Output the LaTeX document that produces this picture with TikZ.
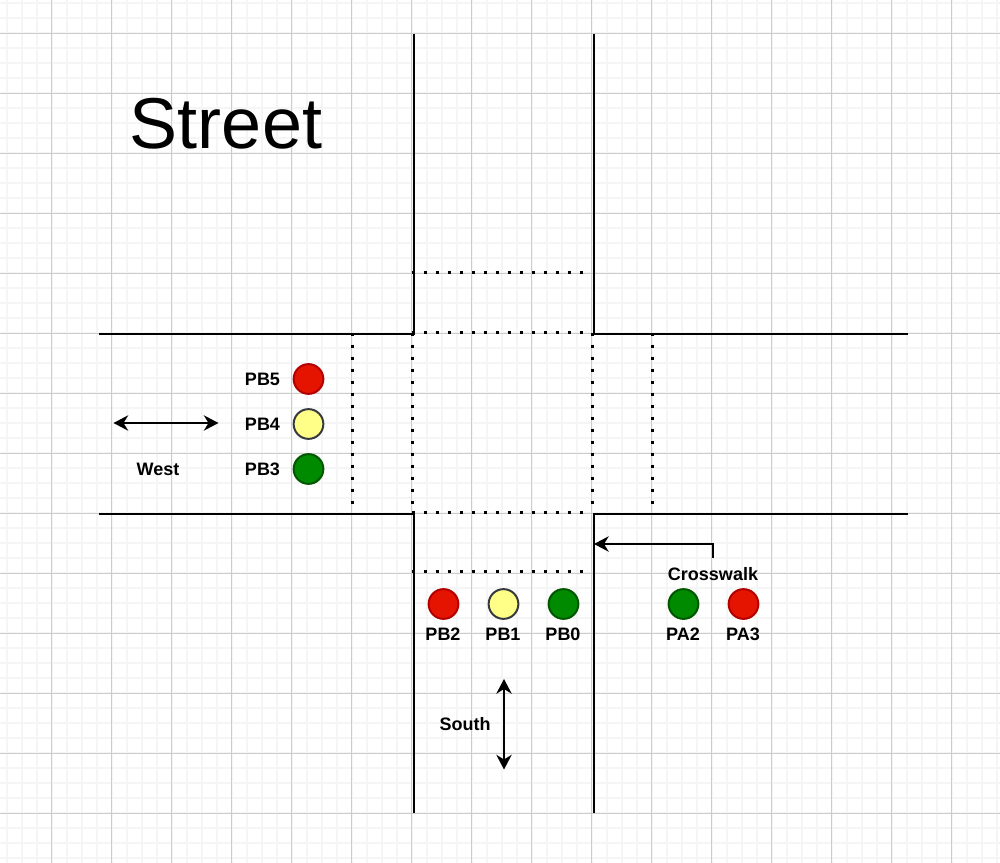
\documentclass[tikz,border=0pt]{standalone}
\usepackage{fontspec}
\setmainfont{Liberation Sans}
\usetikzlibrary{arrows.meta}
\definecolor{lampred}{HTML}{E51400}
\definecolor{lampredline}{HTML}{B20000}
\definecolor{lampyellow}{HTML}{FFFF88}
\definecolor{lampyellowline}{HTML}{36393D}
\definecolor{lampgreen}{HTML}{008A00}
\definecolor{lampgreenline}{HTML}{005700}
\tikzset{
  road/.style={draw=black, line width=1.5pt},
  crossing/.style={draw=black, line width=2.3pt, dash pattern=on 2.3pt off 6.7pt},
  minorgrid/.style={draw=black!4, line width=1.5pt},
  majorgrid/.style={draw=black!20, line width=0.75pt},
  arrow/.style={{Stealth[length=11pt,width=11.5pt,inset=3.5pt]}-{Stealth[length=11pt,width=11.5pt,inset=3.5pt]}, line width=1.5pt},
  onearrow/.style={-{Stealth[length=11pt,width=11.5pt,inset=3.5pt]}, line width=1.5pt},
  lamp/.style={circle, minimum size=22.3pt, inner sep=0pt, line width=1.5pt},
  redlamp/.style={lamp, draw=lampredline, fill=lampred},
  yellowlamp/.style={lamp, draw=lampyellowline, fill=lampyellow},
  greenlamp/.style={lamp, draw=lampgreenline, fill=lampgreen},
  pinlabel/.style={font=\bfseries\fontsize{13.5}{16}\selectfont, inner sep=0pt}
}
\begin{document}
\begin{tikzpicture}[x=0.75pt, y=-0.75pt]
\useasboundingbox[fill=white] (0,0) rectangle (1000,863);
% grid
\foreach \gx in {0,...,66} \draw[minorgrid] ({7+15*\gx},0) -- ({7+15*\gx},863);
\foreach \gy in {0,...,57} \draw[minorgrid] (0,{3+15*\gy}) -- (1000,{3+15*\gy});
\foreach \gx in {0,...,15} \draw[majorgrid] ({51.5+60*\gx},0) -- ({51.5+60*\gx},863);
\foreach \gy in {0,...,13} \draw[majorgrid] (0,{33.5+60*\gy}) -- (1000,{33.5+60*\gy});
% title
\node[font=\fontsize{54}{60}\selectfont, inner sep=0pt] (street) at (226,124) {Street};
% crossings
\draw[crossing] (411.5,272.5) -- (585,272.5);
\draw[crossing] (411.5,332.5) -- (585,332.5);
\draw[crossing] (411.5,512.5) -- (585,512.5);
\draw[crossing] (411.5,571.5) -- (585,571.5);
\draw[crossing] (352.5,332.5) -- (352.5,504);
\draw[crossing] (412.5,332.5) -- (412.5,504);
\draw[crossing] (592.5,332.5) -- (592.5,504);
\draw[crossing] (652.5,332.5) -- (652.5,504);
% roads
\draw[road] (413.5,34) -- (413.5,333.5) -- (99,333.5);
\draw[road] (593.5,34) -- (593.5,333.5) -- (908,333.5);
\draw[road] (99,513.5) -- (413.5,513.5) -- (413.5,813);
\draw[road] (908,513.5) -- (593.5,513.5) -- (593.5,813);
% west lamps
\node[redlamp] (pb5) at (308.5,379) {};
\node[yellowlamp] (pb4) at (308.5,424) {};
\node[greenlamp] (pb3) at (308.5,469) {};
\node[pinlabel] (pb5label) at (262.5,379) {PB5};
\node[pinlabel] (pb4label) at (262.5,424) {PB4};
\node[pinlabel] (pb3label) at (262.5,469) {PB3};
% south lamps
\node[redlamp] (pb2) at (443.5,604) {};
\node[yellowlamp] (pb1) at (503.5,604) {};
\node[greenlamp] (pb0) at (563.5,604) {};
\node[pinlabel] (pb2label) at (443,634) {PB2};
\node[pinlabel] (pb1label) at (503,634) {PB1};
\node[pinlabel] (pb0label) at (563,634) {PB0};
% walk lamps
\node[greenlamp] (pa2) at (683.5,604) {};
\node[redlamp] (pa3) at (743.5,604) {};
\node[pinlabel] (pa2label) at (683,634) {PA2};
\node[pinlabel] (pa3label) at (743,634) {PA3};
% directions
\node[pinlabel] (west) at (158,469) {West};
\node[pinlabel] (south) at (465,724) {South};
\coordinate (westa) at (113.5,423);
\coordinate (westb) at (218.5,423);
\coordinate (southa) at (504,679);
\coordinate (southb) at (504,769.5);
\draw[arrow] (westa) -- (westb);
\draw[arrow] (southa) -- (southb);
% crosswalk
\node[pinlabel, minimum height=24pt] (crosswalk) at (713,574) {Crosswalk};
\coordinate (walkend) at (594,544);
\draw[onearrow] (crosswalk.north) |- (walkend);
\end{tikzpicture}
\end{document}
